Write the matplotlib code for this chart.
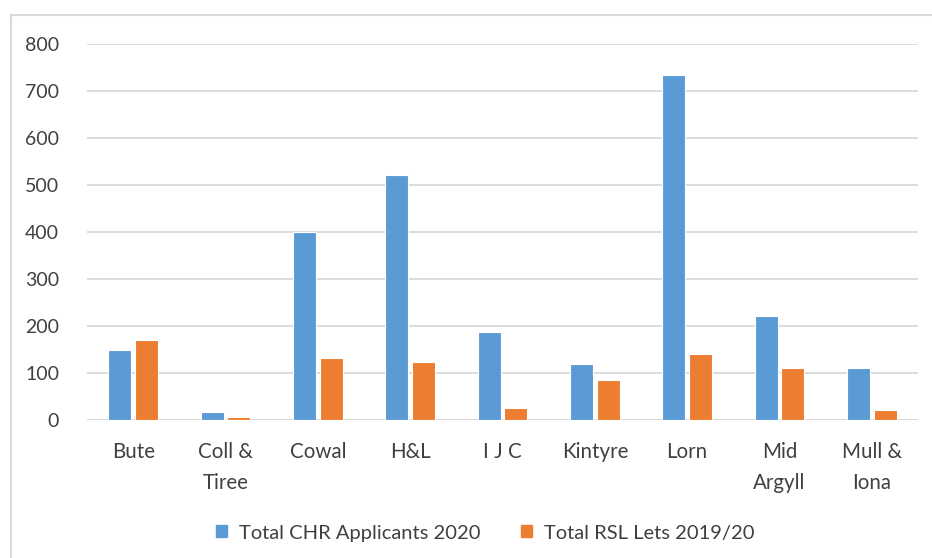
import numpy as np
import matplotlib.pyplot as plt
from matplotlib.lines import Line2D
from matplotlib.patches import Patch

plt.rcParams['font.family'] = ['Lato', 'DejaVu Sans']

areas = ["Bute", "Coll &\nTiree", "Cowal", "H&L", "I J C", "Kintyre",
         "Lorn", "Mid\nArgyll", "Mull &\nIona"]
chr_applicants = [150, 18, 400, 522, 187, 120, 735, 221, 111]
rsl_lets = [170, 6, 132, 124, 26, 86, 140, 111, 22]
series_names = ["Total CHR Applicants 2020", "Total RSL Lets 2019/20"]

BLUE = "#5B9BD5"
ORANGE = "#ED7D31"
GRID = "#D9D9D9"
TEXT = "#404040"

W, H = 932, 558
fig = plt.figure(figsize=(W / 100, H / 100), dpi=100)
ax = fig.add_axes([87 / W, (H - 420) / H, (918 - 87) / W, (420 - 44) / H])

x = np.arange(len(areas))
bw = 0.25
ax.bar(x - 0.145, chr_applicants, bw, color=BLUE, edgecolor="white", linewidth=0.8, zorder=3)
ax.bar(x + 0.145, rsl_lets, bw, color=ORANGE, edgecolor="white", linewidth=0.8, zorder=3)

ax.set_xlim(-0.5, len(areas) - 0.5)
ax.set_ylim(0, 800)
ax.set_yticks(range(0, 801, 100))
ax.grid(axis="y", color=GRID, linewidth=1.3, zorder=0)
for s in ax.spines.values():
    s.set_visible(False)
ax.axhline(0, color=GRID, linewidth=1.3, zorder=2)

ax.set_xticks(x)
ax.set_xticklabels(areas, linespacing=1.65, va="top")
ax.tick_params(axis="x", length=0, pad=16, labelsize=14.8, labelcolor=TEXT)
ax.tick_params(axis="y", length=0, pad=20, labelsize=14, labelcolor=TEXT)

# chart frame
fig.add_artist(Line2D([11 / W, 11 / W], [0, (H - 15) / H], color=GRID, linewidth=1.5))
fig.add_artist(Line2D([11 / W, 1], [(H - 15) / H, (H - 15) / H], color=GRID, linewidth=1.5))

handles = [Patch(color=BLUE), Patch(color=ORANGE)]
fig.legend(handles, series_names, loc="center", bbox_to_anchor=(485 / W, (H - 533) / H),
           ncol=2, frameon=False, fontsize=14.5, handlelength=0.55, handleheight=0.55,
           handletextpad=0.6, columnspacing=2.0, labelcolor=TEXT)

fig.savefig("out.png", dpi=100, facecolor="white")
